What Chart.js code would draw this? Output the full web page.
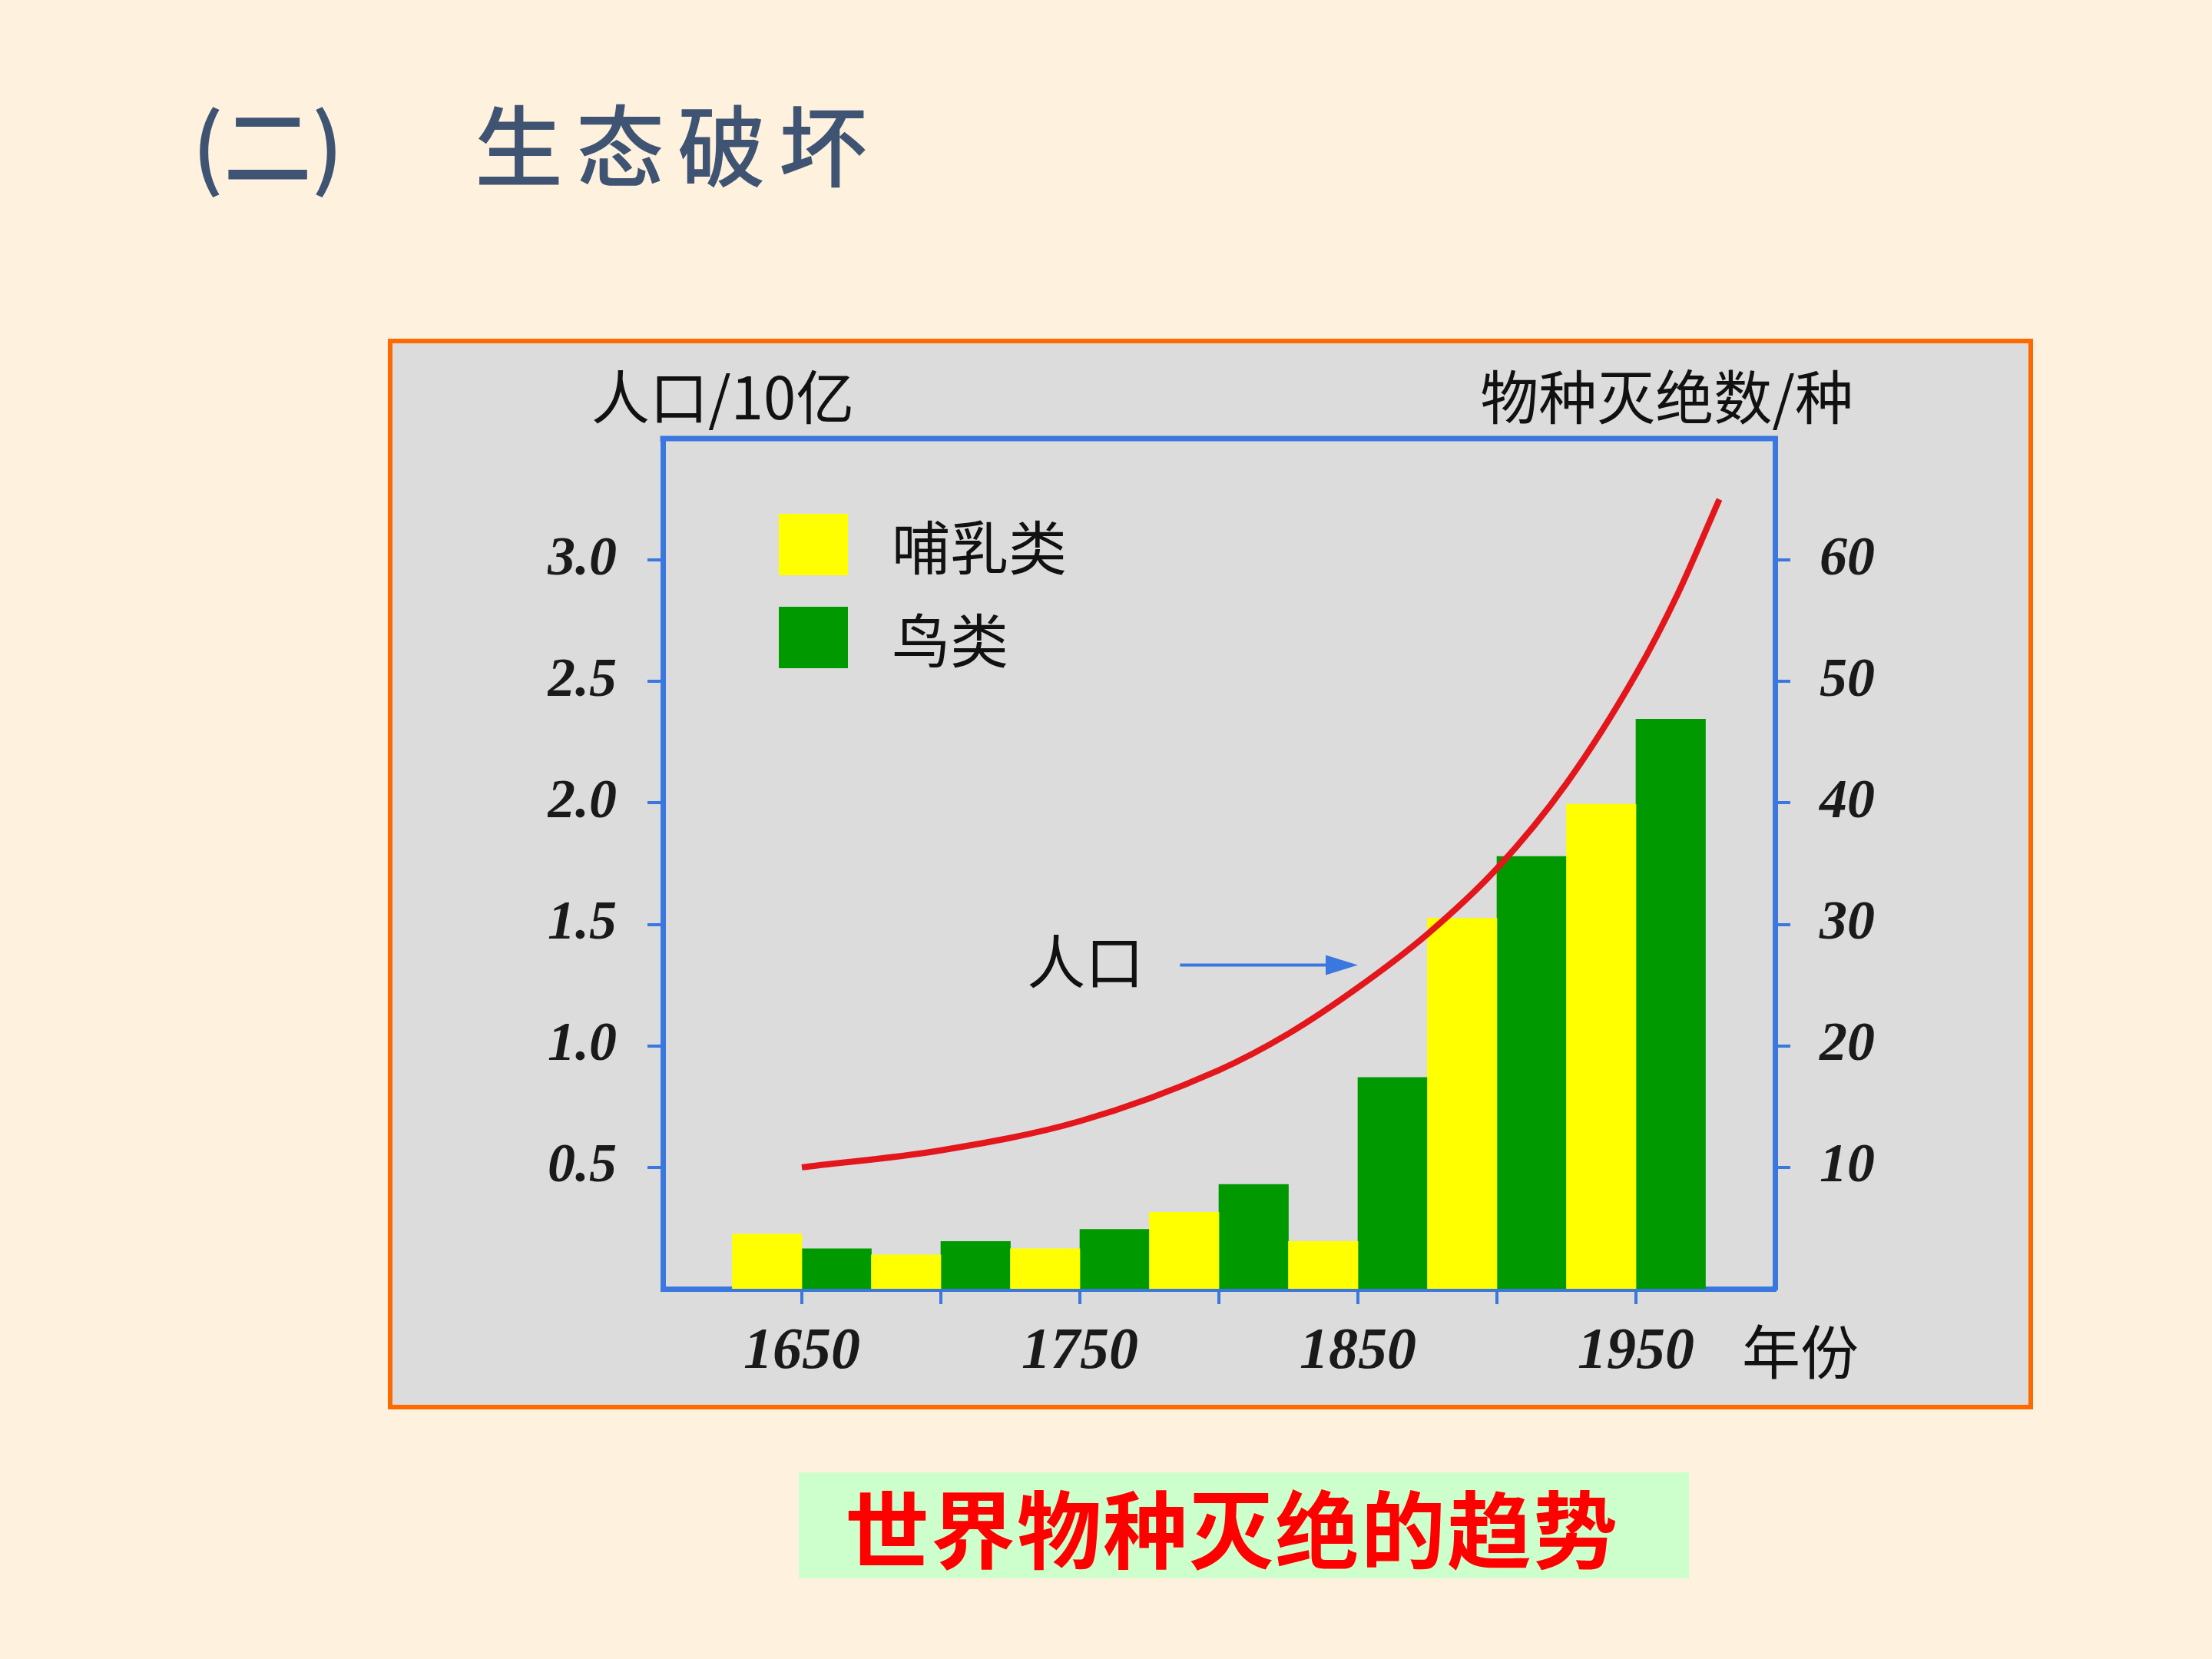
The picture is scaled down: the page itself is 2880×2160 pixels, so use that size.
<!DOCTYPE html>
<html>
<head>
<meta charset="utf-8">
<script src="https://cdn.jsdelivr.net/npm/chart.js@4.4.0/dist/chart.umd.min.js"></script>
<style>
  body { margin: 0; width: 2880px; height: 2160px; background: #fef1de; position: relative; overflow: hidden;
         font-family: "Noto Sans CJK SC", sans-serif; }
  .abs { position: absolute; white-space: nowrap; }
  #frame { left: 505px; top: 441px; width: 2142px; height: 1394px; background: #dcdcdc;
           border: 6px solid #ff6a00; box-sizing: border-box; }
  #c { position: absolute; left: 0; top: 0; }
  .title { color: #3f5472; font-size: 115px; line-height: 115px; top: 127px; font-weight: 500; }
  .unit { font-size: 76px; line-height: 76px; color: #111; }
  .legend-item { left: 1014px; height: 80px; }
  .legend-item .box { position: absolute; left: 0; top: 0; width: 90px; height: 80px; }
  .legend-item .txt { position: absolute; left: 147px; top: 0; font-size: 76px; line-height: 80px; color: #111; white-space: nowrap; }
  #caption { left: 1040px; top: 1917px; width: 1159px; height: 138px; background: #ccffcc; }
  #caption span { position: absolute; left: 60px; top: 0; font-size: 110px; line-height: 138px; font-weight: bold;
                  color: #ff0000; letter-spacing: 2px; }
</style>
</head>
<body>
<div class="abs title" style="left:250px;">(二)</div>
<div class="abs title" style="left:618px; letter-spacing:17px;">生态破坏</div>
<div id="frame" class="abs"></div>
<div class="abs unit" style="left:770px; top:475px;">人口/10亿</div>
<div class="abs unit" style="right:467px; top:475px;">物种灭绝数/种</div>
<div class="abs unit" style="left:2268px; top:1718px;">年份</div>
<canvas id="c" width="2880" height="2160"></canvas>
<div id="legend"></div>
<div id="caption" class="abs"><span>世界物种灭绝的趋势</span></div>
<script>
// 数据
const mammalYears = [1637.5, 1687.5, 1737.5, 1787.5, 1837.5, 1887.5, 1937.5];
const mammalCounts = [4.5, 2.8, 3.3, 6.3, 3.9, 30.5, 39.9];
const birdYears = [1662.5, 1712.5, 1762.5, 1812.5, 1862.5, 1912.5, 1962.5];
const birdCounts = [3.3, 3.9, 4.9, 8.6, 17.4, 35.6, 46.9];
const popYears = [1650, 1700, 1750, 1800, 1825, 1850, 1875, 1900, 1925, 1950, 1965, 1980];
const population = [0.50, 0.57, 0.69, 0.90, 1.05, 1.24, 1.46, 1.73, 2.08, 2.53, 2.86, 3.25];
const yearTicks = [1650, 1700, 1750, 1800, 1850, 1900, 1950];
const yearLabels = [1650, 1750, 1850, 1950];
const popTicks = [0.5, 1.0, 1.5, 2.0, 2.5, 3.0];
const countTicks = [10, 20, 30, 40, 50, 60];

const BLUE = '#3a77de';
const tickFont = { family: '"Liberation Serif", serif', size: 72, style: 'italic', weight: 'bold' };

function toPoints(xs, ys) {
    return xs.map((x, i) => ({ x: x, y: ys[i] }));
}

// 上边框和“人口”箭头
const framePlugin = {
    id: 'frame',
    afterDraw(chart) {
        const { ctx, chartArea, scales } = chart;
        ctx.save();
        ctx.strokeStyle = BLUE;
        ctx.lineWidth = 7;
        ctx.beginPath();
        ctx.moveTo(chartArea.left - 3.5, chartArea.top);
        ctx.lineTo(chartArea.right + 3.5, chartArea.top);
        ctx.stroke();

        const x0 = scales.x.getPixelForValue(1786);
        const x1 = scales.x.getPixelForValue(1850);
        const y = scales.y.getPixelForValue(1.333);
        ctx.lineWidth = 4;
        ctx.beginPath();
        ctx.moveTo(x0, y);
        ctx.lineTo(x1 - 30, y);
        ctx.stroke();
        ctx.fillStyle = BLUE;
        ctx.beginPath();
        ctx.moveTo(x1, y);
        ctx.lineTo(x1 - 42, y - 13);
        ctx.lineTo(x1 - 42, y + 13);
        ctx.closePath();
        ctx.fill();

        ctx.fillStyle = '#111';
        ctx.font = '76px "Noto Sans CJK SC"';
        ctx.textAlign = 'right';
        ctx.textBaseline = 'middle';
        ctx.fillText('人口', x0 - 47, y - 4);
        ctx.restore();
    }
};

const chart = new Chart(document.getElementById('c'), {
    type: 'bar',
    data: {
        datasets: [{
            type: 'line',
            label: '人口',
            data: toPoints(popYears, population),
            xAxisID: 'x',
            yAxisID: 'y',
            borderColor: '#e3161c',
            borderWidth: 8,
            pointRadius: 0,
            cubicInterpolationMode: 'monotone',
            fill: false,
            order: 0
        }, {
            label: '哺乳类',
            data: toPoints(mammalYears, mammalCounts),
            xAxisID: 'x',
            yAxisID: 'y2',
            backgroundColor: '#ffff00',
            barPercentage: 1,
            categoryPercentage: 1,
            order: 1
        }, {
            label: '鸟类',
            data: toPoints(birdYears, birdCounts),
            xAxisID: 'x',
            yAxisID: 'y2',
            backgroundColor: '#009a00',
            barPercentage: 1,
            categoryPercentage: 1,
            order: 1
        }]
    },
    options: {
        responsive: false,
        animation: false,
        layout: { padding: { left: 713, right: 419, top: 571, bottom: 352 } },
        plugins: { legend: { display: false }, tooltip: { enabled: false } },
        scales: {
            x: {
                type: 'linear',
                min: 1600,
                max: 2000,
                stacked: true,
                offset: false,
                afterBuildTicks: axis => { axis.ticks = yearTicks.map(v => ({ value: v })); },
                afterFit: axis => { axis.height = 130; },
                grid: { offset: false, drawOnChartArea: false, color: BLUE, lineWidth: 4, tickLength: 20 },
                border: { color: BLUE, width: 7 },
                ticks: {
                    autoSkip: false,
                    maxRotation: 0,
                    padding: 18,
                    color: '#1a1a1a',
                    font: Object.assign({}, tickFont, { size: 76 }),
                    callback: v => yearLabels.includes(v) ? String(v) : ''
                }
            },
            y: {
                position: 'left',
                min: 0,
                max: 3.5,
                afterBuildTicks: axis => { axis.ticks = popTicks.map(v => ({ value: v })); },
                afterFit: axis => { axis.width = 150; },
                grid: { drawOnChartArea: false, color: BLUE, lineWidth: 4, tickLength: 20 },
                border: { color: BLUE, width: 7 },
                ticks: { padding: 40, color: '#1a1a1a', font: tickFont, callback: v => v.toFixed(1) }
            },
            y2: {
                position: 'right',
                min: 0,
                max: 70,
                afterBuildTicks: axis => { axis.ticks = countTicks.map(v => ({ value: v })); },
                afterFit: axis => { axis.width = 150; },
                grid: { drawOnChartArea: false, color: BLUE, lineWidth: 4, tickLength: 20 },
                border: { color: BLUE, width: 7 },
                ticks: { padding: 38, color: '#1a1a1a', font: tickFont }
            }
        }
    },
    plugins: [framePlugin]
});

// 图例
const legend = document.getElementById('legend');
chart.data.datasets.filter(d => d.type !== 'line').forEach((d, i) => {
    const item = document.createElement('div');
    item.className = 'abs legend-item';
    item.style.top = (669 + i * 121) + 'px';
    item.innerHTML = '<div class="box" style="background:' + d.backgroundColor + '"></div><div class="txt">' + d.label + '</div>';
    legend.appendChild(item);
});
</script>
</body>
</html>
